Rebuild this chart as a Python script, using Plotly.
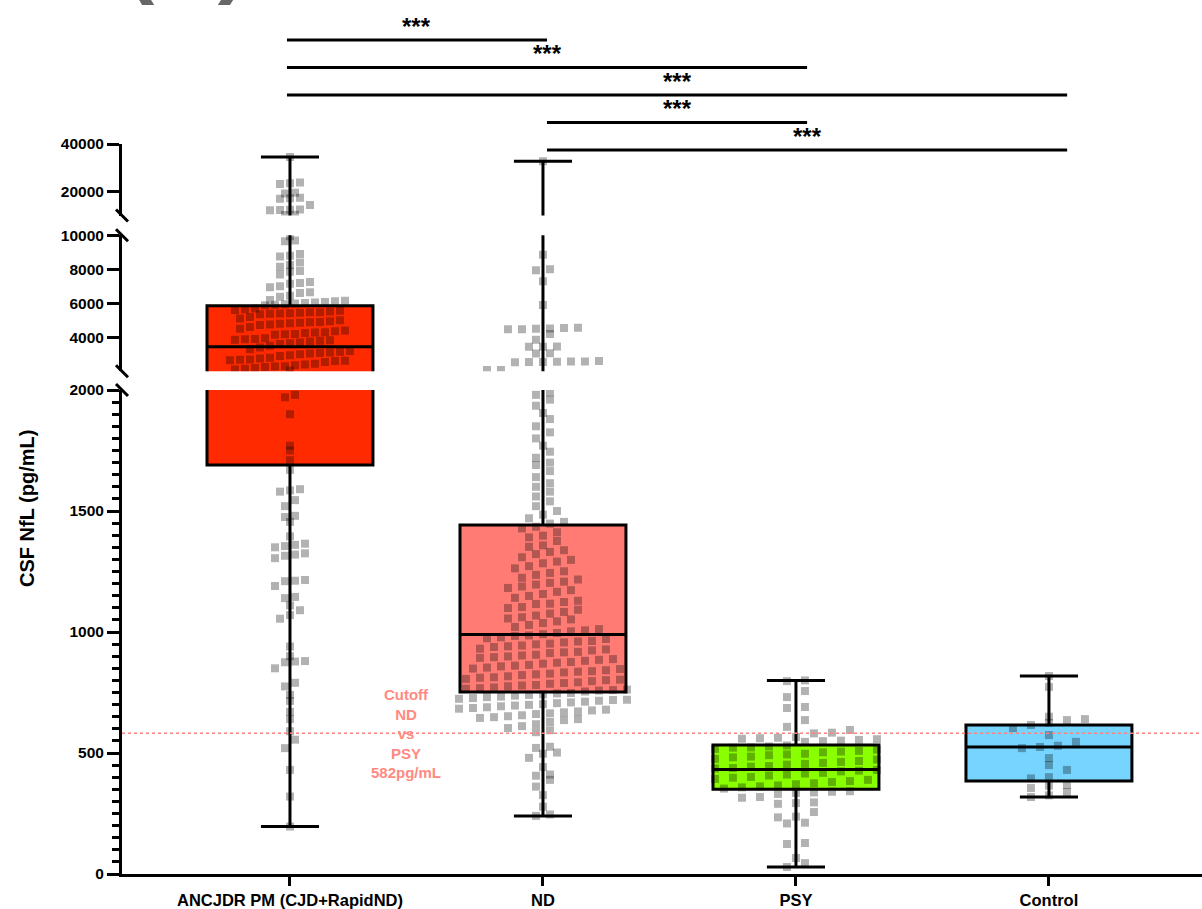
import plotly.graph_objects as go

# ---------------- data ----------------
CATEGORIES = ["ANCJDR PM (CJD+RapidND)", "ND", "PSY", "Control"]

BOX_Q1 = [1690, 752, 350, 384]
BOX_MEDIAN = [3450, 990, 432, 525]
BOX_Q3 = [5860, 1442, 533, 616]
BOX_MIN = [196, 240, 29, 318]
BOX_MAX = [34500, 32800, 800, 818]

ANCJDR_VALUES = [
    34500, 23800, 23500, 23200, 19500, 19200, 17400, 17200, 17000, 14400,
    12500, 12400, 12300, 12200, 10300, 10200,
    9950, 9700, 9650, 8900, 8800, 8750, 8400, 8250, 8150, 7900, 7850, 7700,
    7250, 7200, 7150, 7000, 6950, 6650, 6600, 6450, 6380, 6200, 6150, 6120,
    6080, 6050, 6020, 5990, 5950, 5920, 5880,
    5700, 5650, 5600, 5560, 5520, 5480, 5470, 5440, 5420, 5400, 5380, 5350,
    5200, 5100, 5000, 4950, 4900, 4880, 4850, 4820, 4800, 4760, 4720,
    4600, 4500, 4400, 4350, 4300, 4280, 4250, 4200, 4180, 4150,
    3950, 3900, 3880, 3850, 3820, 3800, 3750, 3700, 3650, 3600,
    3500, 3400, 3300, 3200, 3150, 3100, 3080, 3050, 3000, 2950,
    2900, 2800, 2750, 2700, 2680, 2650, 2620, 2600, 2550,
    2450, 2400, 2350, 2300, 2280, 2250, 2200, 2150, 2100, 2050,
    1980, 1970, 1900, 1770, 1750, 1710, 1670, 1590, 1585, 1580, 1545, 1520,
    1480, 1475, 1455, 1395, 1365, 1360, 1355, 1350, 1325, 1320, 1315, 1305,
    1215, 1212, 1210, 1190, 1145, 1140, 1110, 1090, 1070, 1055, 940, 900,
    880, 878, 875, 850, 790, 775, 740, 715, 670, 640, 590, 555, 520, 430,
    320, 196,
]

ND_VALUES = [
    32800,
    8850, 8000, 7950, 7300, 5900, 4560, 4540, 4520, 4500, 4480, 4470, 4200,
    3850, 3460, 3450, 3440, 3060, 3050, 2600, 2580, 2570, 2560, 2550, 2540,
    2530, 2080, 2070,
    1990, 1980, 1960, 1935, 1905, 1880, 1850, 1825, 1800, 1770, 1745, 1720,
    1700, 1690, 1665, 1640, 1615, 1600, 1580, 1560, 1540, 1520, 1500, 1485,
    1470, 1455, 1448,
    1435, 1428, 1412, 1398, 1391, 1376, 1358, 1352, 1338, 1331, 1322, 1309,
    1298, 1291, 1284, 1272, 1263, 1251, 1244, 1236, 1224, 1217, 1208, 1203,
    1188, 1182, 1173, 1166, 1157, 1149, 1141, 1129, 1124, 1116, 1103, 1099,
    1092, 1083, 1076, 1068, 1061, 1052, 1044, 1037, 1029, 1021, 1012, 1003,
    996, 991, 984, 978, 971, 963, 957, 949, 944, 938, 931, 924, 918, 913,
    906, 899, 896, 888, 881, 876, 869, 864, 861, 853, 849, 842, 838, 833,
    828, 822, 817, 813, 806, 801, 797, 792, 786, 781, 776, 771, 766, 762,
    758, 754,
    1196, 1117, 1056, 1007, 986, 974, 961, 952, 941, 928, 916, 903, 893,
    885, 873, 858, 847, 836, 825, 811, 803, 789, 779, 768, 760,
    748, 746, 742, 740, 737, 733, 731, 727, 724, 720, 719, 716, 712, 709,
    706, 702, 699, 696, 693, 689, 686, 683, 679, 676, 672, 668, 664, 661,
    656, 652, 648, 645, 640, 636, 628, 619, 611, 603, 594, 586, 526, 521,
    502, 497, 480, 442, 411, 406, 389, 361, 326, 278, 246, 240,
]

PSY_VALUES = [
    800, 797, 756, 731, 690, 686, 636, 608, 595, 584, 581, 566, 563, 561,
    559, 557, 554, 551, 549, 546,
    531, 527, 523, 522, 517, 514, 509, 506, 503, 497, 494, 491, 485, 482,
    476, 473, 467, 463, 459, 455, 452, 446, 444, 438, 436, 430, 427, 424,
    418, 415, 411, 407, 401, 398, 393, 389, 384, 380, 375, 371, 366, 362,
    358, 353,
    342, 340, 337, 335, 331, 318, 315, 296, 293, 290, 256, 237, 234, 212,
    209, 128, 124, 66, 45, 29,
]

CONTROL_VALUES = [
    818, 773, 650, 640, 636, 625, 616, 603, 574, 546, 530, 525, 520, 479,
    450, 430, 400, 395, 368, 365, 355, 339, 325, 318,
]

GROUP_VALUES = [ANCJDR_VALUES, ND_VALUES, PSY_VALUES, CONTROL_VALUES]

# pairwise comparisons drawn as brackets above the plot
COMPARISONS = [(0, 1, "***"), (0, 2, "***"), (0, 3, "***"), (1, 2, "***"), (1, 3, "***")]

CUTOFF = 582
CUTOFF_LABEL = "Cutoff<br>ND<br>vs<br>PSY<br>582pg/mL"

# broken y axis: three stacked segments
SEGMENT_RANGES = [(0, 2000), (2000, 10000), (10000, 40000)]
SEGMENT_TICKS = [[0, 500, 1000, 1500, 2000], [4000, 6000, 8000, 10000], [20000, 40000]]

# ---------------- style ----------------
W, H = 1202, 909
FONT = "Liberation Sans, Arial, sans-serif"
FILL_COLORS = ["#ff2a00", "#ff7b74", "#8aff00", "#76d4ff"]
DOT_COLOR = "rgba(0,0,0,0.30)"
AXIS_LEFT_PX = 122
X_RANGE = (-0.664, 3.605)
# pixel rows (bottom, top) of each axis segment
SEGMENT_PX = [(874, 390), (371.3, 235.3), (215.5, 144)]
BOX_WIDTH = 0.656
WHISKER_WIDTH = 0.35
ROW_PX = 10
COL_PX = [10, 14, 18, 18]
BRACKET_TOP_PX = 40
BRACKET_STEP_PX = 27.5
# bracket ends sit slightly outside the category centres
BRACKET_SCALE = 1.028
BRACKET_SHIFT = -0.012

x_px_per_unit = (W - AXIS_LEFT_PX) / (X_RANGE[1] - X_RANGE[0])
domains = [((H - b) / H, (H - t) / H) for b, t in SEGMENT_PX]
axis_names = ["y", "y2", "y3"]


def swarm(values, center, lo, hi, px_per_unit, col_px):
    """Spread points of one segment into centred rows, GraphPad style."""
    rows = {}
    for v in sorted(values):
        if lo <= v <= hi:
            r = int(round(v * px_per_unit / ROW_PX))
            rows.setdefault(r, []).append(v)
    col = col_px / x_px_per_unit
    xs, ys = [], []
    for r in sorted(rows):
        vals = rows[r]
        n = len(vals)
        for k, v in enumerate(vals):
            xs.append(center + (k - (n - 1) / 2) * col)
            ys.append(v)
    return xs, ys


fig = go.Figure()

for s, (lo, hi) in enumerate(SEGMENT_RANGES):
    yname = axis_names[s]
    seg_px = SEGMENT_PX[s][0] - SEGMENT_PX[s][1]
    px_per_unit = seg_px / (hi - lo)
    for g in range(len(CATEGORIES)):
        fig.add_trace(go.Box(
            x=[g], q1=[BOX_Q1[g]], median=[BOX_MEDIAN[g]], q3=[BOX_Q3[g]],
            lowerfence=[BOX_MIN[g]], upperfence=[BOX_MAX[g]],
            width=BOX_WIDTH, whiskerwidth=WHISKER_WIDTH,
            fillcolor=FILL_COLORS[g], line=dict(color="black", width=3),
            boxpoints=False, showlegend=False, hoverinfo="skip", yaxis=yname,
        ))
    for g in range(len(CATEGORIES)):
        xs, ys = swarm(GROUP_VALUES[g], g, lo, hi, px_per_unit, COL_PX[g])
        fig.add_trace(go.Scatter(
            x=xs, y=ys, mode="markers", yaxis=yname, showlegend=False,
            hoverinfo="skip",
            marker=dict(symbol="square", size=8, color=DOT_COLOR, line=dict(width=0)),
        ))

tick_font = dict(family=FONT, size=15.5, color="black", weight="bold")

layout = dict(
    width=W, height=H,
    margin=dict(l=0, r=0, t=0, b=0),
    paper_bgcolor="white", plot_bgcolor="white",
    showlegend=False,
    font=dict(family=FONT, color="black"),
    xaxis=dict(
        domain=[AXIS_LEFT_PX / W, 1], range=list(X_RANGE), anchor="y",
        tickvals=list(range(len(CATEGORIES))), ticktext=CATEGORIES,
        tickfont=dict(family=FONT, size=16.5, color="black", weight="bold"),
        showline=True, linewidth=3, linecolor="black",
        ticks="outside", ticklen=9, tickwidth=3, tickcolor="black",
        showgrid=False, zeroline=False, automargin=False,
    ),
)

for s, (lo, hi) in enumerate(SEGMENT_RANGES):
    key = "yaxis" if s == 0 else f"yaxis{s + 1}"
    ax = dict(
        domain=list(domains[s]), range=[lo, hi], anchor="x",
        tickvals=SEGMENT_TICKS[s], ticktext=[str(v) for v in SEGMENT_TICKS[s]],
        tickfont=tick_font,
        showline=True, linewidth=3, linecolor="black",
        ticks="outside", ticklen=12, tickwidth=3, tickcolor="black",
        showgrid=False, zeroline=False, automargin=False,
    )
    if s == 0:
        ax["minor"] = dict(tick0=0, dtick=50, ticks="outside", ticklen=7,
                           tickwidth=2.5, tickcolor="black", showgrid=False)
    layout[key] = ax

fig.update_layout(**layout)

# axis break marks at the open ends of each segment
bx = AXIS_LEFT_PX / W
dx, dy = 6 / W, 6 / H
break_ends = [domains[0][1], domains[1][0], domains[1][1], domains[2][0]]
for yb in break_ends:
    fig.add_shape(type="line", xref="paper", yref="paper",
                  x0=bx - dx, y0=yb + dy, x1=bx + dx, y1=yb - dy,
                  line=dict(color="black", width=3))

# cutoff line and label
fig.add_shape(type="line", xref="x domain", yref="y", x0=0, x1=1, y0=CUTOFF, y1=CUTOFF,
              line=dict(color="#ff8080", width=1.5, dash="dot"))
fig.add_annotation(x=0.458, y=CUTOFF, xref="x", yref="y", text=CUTOFF_LABEL,
                   showarrow=False, xanchor="center", yanchor="middle",
                   font=dict(family=FONT, size=15, color="#ff8a82", weight="bold"))

# significance brackets
for level, (a, b, label) in enumerate(COMPARISONS):
    ypx = BRACKET_TOP_PX + level * BRACKET_STEP_PX
    yp = 1 - ypx / H
    xa = a * BRACKET_SCALE + BRACKET_SHIFT
    xb = b * BRACKET_SCALE + BRACKET_SHIFT
    fig.add_shape(type="line", xref="x", yref="paper", x0=xa, x1=xb, y0=yp, y1=yp,
                  line=dict(color="black", width=3))
    fig.add_annotation(x=(xa + xb) / 2, y=yp, xref="x", yref="paper", text=label,
                       showarrow=False, yanchor="bottom", yshift=-2,
                       font=dict(family=FONT, size=24, color="black", weight="bold"))

# y axis title, centred on the full broken axis
fig.add_annotation(x=27 / W, y=(domains[0][0] + domains[2][1]) / 2, xref="paper", yref="paper",
                   text="CSF NfL (pg/mL)", textangle=-90, showarrow=False,
                   xanchor="center", yanchor="middle",
                   font=dict(family=FONT, size=20, color="black", weight="bold"))

# panel letter
fig.add_annotation(x=186 / W, y=1 - 8 / H, xref="paper", yref="paper", text="(A)",
                   showarrow=False, xanchor="center", yanchor="bottom",
                   font=dict(family=FONT, size=88, color="#676767", weight="bold"))

fig.write_html("out.html")
